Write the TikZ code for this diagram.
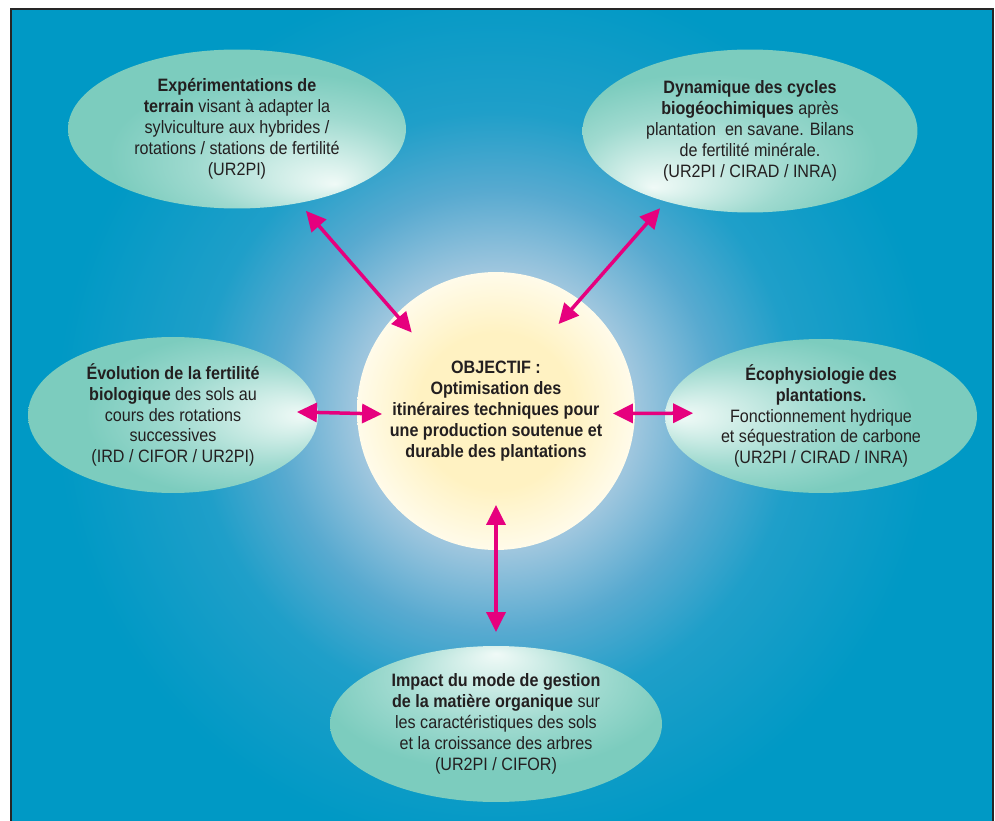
\documentclass[tikz,border=0pt]{standalone}
\usepackage{fontspec}
\setmainfont{Liberation Sans}[FakeStretch=0.9]
\usepackage{tikz}
\usetikzlibrary{shapes,arrows.meta}

\definecolor{sea}{RGB}{0,153,197}
\definecolor{mist}{RGB}{200,224,238}
\definecolor{haze}{RGB}{158,198,222}
\definecolor{dusk}{RGB}{88,170,208}
\definecolor{leaf}{RGB}{124,204,190}
\definecolor{foam}{RGB}{240,250,247}
\definecolor{sun}{RGB}{255,242,194}
\definecolor{cream}{RGB}{255,251,234}
\definecolor{rose}{RGB}{230,0,126}
\definecolor{ink}{RGB}{35,31,32}

\pgfdeclareradialshading{halo}{\pgfpointorigin}{color(0bp)=(mist); color(8bp)=(haze); color(12.5bp)=(dusk); color(17bp)=(sea!65!dusk); color(25bp)=(sea); color(50bp)=(sea)}
\pgfdeclareradialshading{core}{\pgfpointorigin}{color(0bp)=(sun); color(14bp)=(sun); color(25bp)=(cream); color(50bp)=(cream)}
% light spot on the side of each ellipse that faces the centre
\pgfdeclareradialshading{glintse}{\pgfpoint{14.5bp}{-17.3bp}}{color(0bp)=(foam); color(7bp)=(foam!70!leaf); color(16bp)=(foam!30!leaf); color(26bp)=(leaf); color(50bp)=(leaf)}
\pgfdeclareradialshading{glintsw}{\pgfpoint{-14.5bp}{-17.3bp}}{color(0bp)=(foam); color(7bp)=(foam!70!leaf); color(16bp)=(foam!30!leaf); color(26bp)=(leaf); color(50bp)=(leaf)}
\pgfdeclareradialshading{glinte}{\pgfpoint{22.6bp}{0bp}}{color(0bp)=(foam); color(7bp)=(foam!70!leaf); color(16bp)=(foam!30!leaf); color(26bp)=(leaf); color(50bp)=(leaf)}
\pgfdeclareradialshading{glintw}{\pgfpoint{-22.6bp}{0bp}}{color(0bp)=(foam); color(7bp)=(foam!70!leaf); color(16bp)=(foam!30!leaf); color(26bp)=(leaf); color(50bp)=(leaf)}
\pgfdeclareradialshading{glintn}{\pgfpoint{0bp}{22.6bp}}{color(0bp)=(foam); color(7bp)=(foam!70!leaf); color(16bp)=(foam!30!leaf); color(26bp)=(leaf); color(50bp)=(leaf)}

\begin{document}
\begin{tikzpicture}[x=0.02cm, y=-0.02cm,
        every node/.style={align=center, text=ink, outer sep=0pt, inner sep=0pt,
          font=\fontsize{10.2}{11.9}\selectfont},
        topic/.style={ellipse, shading=glint#1}]
      \tikzstyle{link} = [draw=rose, line width=0.07cm, <->, >={Triangle[length=0.4cm,width=0.38cm]}]
      \useasboundingbox (0,0) rectangle (995,821);
      \fill[sea] (11,9) rectangle (993,821);
      \begin{scope}
        \clip (11,9) rectangle (993,821);
        \shade[shading=halo] (496,411) circle (440);
      \end{scope}
      \draw[line width=0.6pt, black!85] (11,821) -- (11,9) -- (993,9) -- (993,821);

      \node (obj) [circle, shading=core, minimum size=5.56cm] at (496,411)
        {\bfseries OBJECTIF :\\\bfseries Optimisation des\\\bfseries itinéraires techniques pour\\
         \bfseries une production soutenue et\\\bfseries durable des plantations};
      \node (exp) [topic=se, minimum width=6.76cm, minimum height=3.18cm] at (237,129)
        {\textbf{Expérimentations de}\\\textbf{terrain} visant à adapter la\\sylviculture aux hybrides /\\
         rotations / stations de fertilité\\(UR2PI)};
      \node (cyc) [topic=sw, minimum width=6.7cm, minimum height=3.26cm] at (750,131)
        {\textbf{Dynamique des cycles}\\\textbf{biogéochimiques} après\\plantation\ \ en savane. Bilans\\
         de fertilité minérale.\\(UR2PI / CIRAD / INRA)};
      \node (evo) [topic=e, minimum width=5.8cm, minimum height=3.12cm] at (173,415)
        {\textbf{Évolution de la fertilité}\\\textbf{biologique} des sols au\\cours des rotations\\
         successives\\(IRD / CIFOR / UR2PI)};
      \node (eco) [topic=w, minimum width=6.24cm, minimum height=3.08cm] at (821,416)
        {\textbf{Écophysiologie des}\\\textbf{plantations.}\\Fonctionnement hydrique\\
         et séquestration de carbone\\(UR2PI / CIRAD / INRA)};
      \node (imp) [topic=n, minimum width=6.64cm, minimum height=3.12cm] at (496,724)
        {\textbf{Impact du mode de gestion}\\\textbf{de la matière organique} sur\\
         les caractéristiques des sols\\et la croissance des arbres\\(UR2PI / CIFOR)};

      \draw[link, shorten <=-0.48cm, shorten >=0.21cm] (obj.136) -- (exp.-50);
      \draw[link, shorten <=-0.64cm, shorten >=0.18cm] (obj.53) -- (cyc.220);
      \draw[link, shorten <=-0.5cm, shorten >=-0.42cm] (obj.181) -- (evo.1);
      \draw[link, shorten <=-0.44cm, shorten >=-0.56cm] (obj.-1) -- (eco.179);
      \draw[link, shorten <=-0.9cm, shorten >=0.28cm] (obj.-90) -- (imp.90);
    \end{tikzpicture}
\end{document}
